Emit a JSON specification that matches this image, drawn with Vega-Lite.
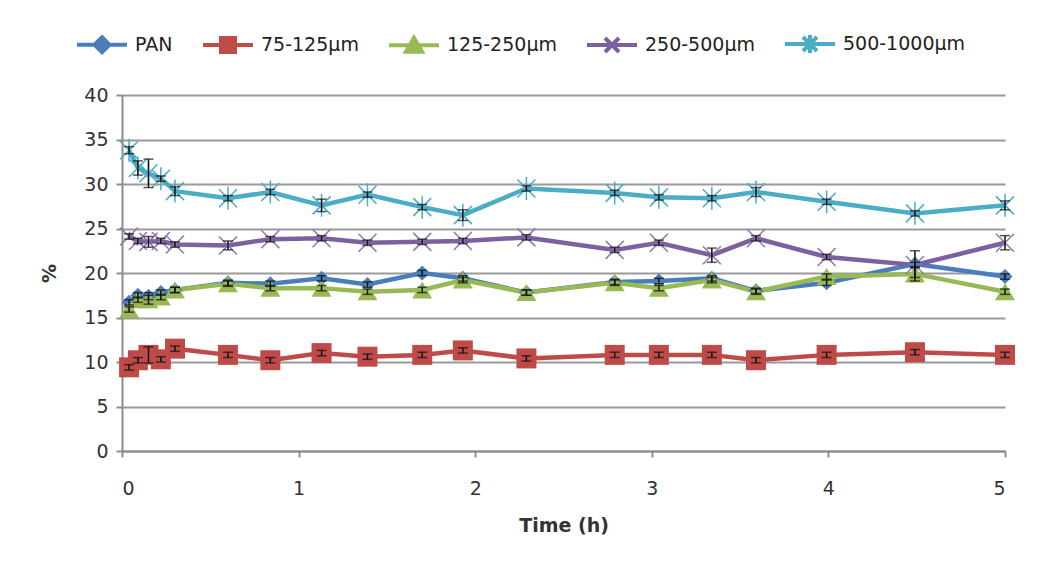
{
  "$schema": "https://vega.github.io/schema/vega-lite/v6.json",
  "width": 883,
  "height": 356,
  "autosize": "none",
  "padding": {"left": 122, "top": 95, "right": 38, "bottom": 125},
  "background": "white",
  "data": {
    "values": [
      {"t": 0.04, "series": "PAN", "v": 16.7, "err": 0.3},
      {"t": 0.09, "series": "PAN", "v": 17.5, "err": 0.3},
      {"t": 0.15, "series": "PAN", "v": 17.4, "err": 0.4},
      {"t": 0.22, "series": "PAN", "v": 17.8, "err": 0.3},
      {"t": 0.3, "series": "PAN", "v": 18.1, "err": 0.3},
      {"t": 0.6, "series": "PAN", "v": 18.9, "err": 0.3},
      {"t": 0.84, "series": "PAN", "v": 18.8, "err": 0.3},
      {"t": 1.13, "series": "PAN", "v": 19.4, "err": 0.3},
      {"t": 1.39, "series": "PAN", "v": 18.7, "err": 0.3},
      {"t": 1.7, "series": "PAN", "v": 20.0, "err": 0.3},
      {"t": 1.93, "series": "PAN", "v": 19.4, "err": 0.3},
      {"t": 2.29, "series": "PAN", "v": 17.8, "err": 0.3},
      {"t": 2.79, "series": "PAN", "v": 19.0, "err": 0.3},
      {"t": 3.04, "series": "PAN", "v": 19.1, "err": 0.3},
      {"t": 3.34, "series": "PAN", "v": 19.4, "err": 0.3},
      {"t": 3.59, "series": "PAN", "v": 18.0, "err": 0.3},
      {"t": 3.99, "series": "PAN", "v": 18.9, "err": 0.3},
      {"t": 4.49, "series": "PAN", "v": 21.0, "err": 1.5},
      {"t": 5.0, "series": "PAN", "v": 19.6, "err": 0.3},
      {"t": 0.04, "series": "75-125µm", "v": 9.4, "err": 0.3},
      {"t": 0.09, "series": "75-125µm", "v": 10.2, "err": 0.3},
      {"t": 0.15, "series": "75-125µm", "v": 10.8, "err": 0.9},
      {"t": 0.22, "series": "75-125µm", "v": 10.3, "err": 0.3},
      {"t": 0.3, "series": "75-125µm", "v": 11.5, "err": 0.3},
      {"t": 0.6, "series": "75-125µm", "v": 10.8, "err": 0.3},
      {"t": 0.84, "series": "75-125µm", "v": 10.2, "err": 0.3},
      {"t": 1.13, "series": "75-125µm", "v": 11.0, "err": 0.3},
      {"t": 1.39, "series": "75-125µm", "v": 10.6, "err": 0.3},
      {"t": 1.7, "series": "75-125µm", "v": 10.8, "err": 0.3},
      {"t": 1.93, "series": "75-125µm", "v": 11.3, "err": 0.3},
      {"t": 2.29, "series": "75-125µm", "v": 10.4, "err": 0.3},
      {"t": 2.79, "series": "75-125µm", "v": 10.8, "err": 0.3},
      {"t": 3.04, "series": "75-125µm", "v": 10.8, "err": 0.3},
      {"t": 3.34, "series": "75-125µm", "v": 10.8, "err": 0.3},
      {"t": 3.59, "series": "75-125µm", "v": 10.2, "err": 0.3},
      {"t": 3.99, "series": "75-125µm", "v": 10.8, "err": 0.3},
      {"t": 4.49, "series": "75-125µm", "v": 11.1, "err": 0.3},
      {"t": 5.0, "series": "75-125µm", "v": 10.8, "err": 0.3},
      {"t": 0.04, "series": "125-250µm", "v": 15.9, "err": 0.3},
      {"t": 0.09, "series": "125-250µm", "v": 17.0, "err": 0.3},
      {"t": 0.15, "series": "125-250µm", "v": 17.0, "err": 0.5},
      {"t": 0.22, "series": "125-250µm", "v": 17.3, "err": 0.3},
      {"t": 0.3, "series": "125-250µm", "v": 18.1, "err": 0.3},
      {"t": 0.6, "series": "125-250µm", "v": 18.8, "err": 0.3},
      {"t": 0.84, "series": "125-250µm", "v": 18.3, "err": 0.3},
      {"t": 1.13, "series": "125-250µm", "v": 18.3, "err": 0.3},
      {"t": 1.39, "series": "125-250µm", "v": 17.9, "err": 0.3},
      {"t": 1.7, "series": "125-250µm", "v": 18.1, "err": 0.3},
      {"t": 1.93, "series": "125-250µm", "v": 19.2, "err": 0.3},
      {"t": 2.29, "series": "125-250µm", "v": 17.8, "err": 0.3},
      {"t": 2.79, "series": "125-250µm", "v": 18.9, "err": 0.3},
      {"t": 3.04, "series": "125-250µm", "v": 18.3, "err": 0.3},
      {"t": 3.34, "series": "125-250µm", "v": 19.2, "err": 0.3},
      {"t": 3.59, "series": "125-250µm", "v": 17.9, "err": 0.3},
      {"t": 3.99, "series": "125-250µm", "v": 19.6, "err": 0.3},
      {"t": 4.49, "series": "125-250µm", "v": 19.9, "err": 0.8},
      {"t": 5.0, "series": "125-250µm", "v": 17.9, "err": 0.3},
      {"t": 0.04, "series": "250-500µm", "v": 24.1, "err": 0.3},
      {"t": 0.09, "series": "250-500µm", "v": 23.6, "err": 0.3},
      {"t": 0.15, "series": "250-500µm", "v": 23.5, "err": 0.6},
      {"t": 0.22, "series": "250-500µm", "v": 23.6, "err": 0.3},
      {"t": 0.3, "series": "250-500µm", "v": 23.2, "err": 0.3},
      {"t": 0.6, "series": "250-500µm", "v": 23.1, "err": 0.5},
      {"t": 0.84, "series": "250-500µm", "v": 23.8, "err": 0.3},
      {"t": 1.13, "series": "250-500µm", "v": 23.9, "err": 0.3},
      {"t": 1.39, "series": "250-500µm", "v": 23.4, "err": 0.3},
      {"t": 1.7, "series": "250-500µm", "v": 23.5, "err": 0.3},
      {"t": 1.93, "series": "250-500µm", "v": 23.6, "err": 0.3},
      {"t": 2.29, "series": "250-500µm", "v": 24.0, "err": 0.3},
      {"t": 2.79, "series": "250-500µm", "v": 22.6, "err": 0.3},
      {"t": 3.04, "series": "250-500µm", "v": 23.4, "err": 0.3},
      {"t": 3.34, "series": "250-500µm", "v": 22.0, "err": 0.8},
      {"t": 3.59, "series": "250-500µm", "v": 23.9, "err": 0.3},
      {"t": 3.99, "series": "250-500µm", "v": 21.8, "err": 0.3},
      {"t": 4.49, "series": "250-500µm", "v": 20.9, "err": 0.3},
      {"t": 5.0, "series": "250-500µm", "v": 23.4, "err": 0.8},
      {"t": 0.04, "series": "500-1000µm", "v": 33.8, "err": 0.4},
      {"t": 0.09, "series": "500-1000µm", "v": 31.8, "err": 0.8},
      {"t": 0.15, "series": "500-1000µm", "v": 31.2, "err": 1.6},
      {"t": 0.22, "series": "500-1000µm", "v": 30.6, "err": 0.3},
      {"t": 0.3, "series": "500-1000µm", "v": 29.2, "err": 0.5},
      {"t": 0.6, "series": "500-1000µm", "v": 28.4, "err": 0.3},
      {"t": 0.84, "series": "500-1000µm", "v": 29.1, "err": 0.3},
      {"t": 1.13, "series": "500-1000µm", "v": 27.6, "err": 0.7},
      {"t": 1.39, "series": "500-1000µm", "v": 28.8, "err": 0.3},
      {"t": 1.7, "series": "500-1000µm", "v": 27.4, "err": 0.3},
      {"t": 1.93, "series": "500-1000µm", "v": 26.5, "err": 0.6},
      {"t": 2.29, "series": "500-1000µm", "v": 29.5, "err": 0.3},
      {"t": 2.79, "series": "500-1000µm", "v": 29.0, "err": 0.3},
      {"t": 3.04, "series": "500-1000µm", "v": 28.5, "err": 0.3},
      {"t": 3.34, "series": "500-1000µm", "v": 28.4, "err": 0.3},
      {"t": 3.59, "series": "500-1000µm", "v": 29.1, "err": 0.5},
      {"t": 3.99, "series": "500-1000µm", "v": 28.0, "err": 0.3},
      {"t": 4.49, "series": "500-1000µm", "v": 26.7, "err": 0.3},
      {"t": 5.0, "series": "500-1000µm", "v": 27.6, "err": 0.5}
    ]
  },
  "encoding": {
    "x": {"field": "t", "type": "quantitative", "title": "Time (h)", "scale": {"domain": [0, 5], "nice": false}, "axis": {"values": [0, 1, 2, 3, 4, 5], "format": "d", "grid": false, "labelPadding": 22, "titlePadding": 18}},
    "y": {"field": "v", "type": "quantitative", "title": "%", "scale": {"domain": [0, 40], "nice": false}, "axis": {"values": [0, 5, 10, 15, 20, 25, 30, 35, 40], "format": "d", "grid": true, "labelPadding": 8, "titlePadding": 24}}
  },
  "layer": [
    {
      "mark": {"type": "line", "strokeWidth": 4.5},
      "encoding": {
        "color": {
          "field": "series", "type": "nominal",
          "scale": {"domain": ["PAN", "75-125µm", "125-250µm", "250-500µm", "500-1000µm"], "range": ["#4a7ebb", "#be4b48", "#98b954", "#7d60a0", "#4bacc6"]},
          "legend": {
            "title": null, "orient": "none", "legendX": -47, "legendY": -78, "direction": "horizontal", "columns": 5,
            "columnPadding": 22, "padding": 0, "labelFont": "DejaVu Sans", "labelFontSize": 19, "labelColor": "#222", "labelOffset": 6,
            "symbolSize": 2500, "symbolStrokeWidth": 4,
            "encode": {
              "symbols": {
                "update": {
                  "shape": {"signal": "datum.value === 'PAN' ? 'M-1,0L1,0M0,-0.3L0.3,0L0,0.3L-0.3,0Z' : datum.value === '75-125µm' ? 'M-1,0L1,0M-0.28,-0.28L0.28,-0.28L0.28,0.28L-0.28,0.28Z' : datum.value === '125-250µm' ? 'M-1,0L1,0M0,-0.3L0.32,0.26L-0.32,0.26Z' : datum.value === '250-500µm' ? 'M-1,0L1,0M-0.28,-0.28L0.28,0.28M-0.28,0.28L0.28,-0.28' : 'M-1,0L1,0M-0.28,-0.28L0.28,0.28M-0.28,0.28L0.28,-0.28M0,-0.36L0,0.36'"},
                  "fill": {"scale": "color", "field": "value"},
                  "stroke": {"scale": "color", "field": "value"},
                  "strokeWidth": {"value": 4},
                  "size": {"value": 2500},
                  "opacity": {"value": 1}
                }
              }
            }
          }
        }
      }
    },
    {
      "transform": [{"filter": {"field": "series", "equal": "PAN"}}],
      "mark": {"type": "point", "filled": true, "size": 400, "strokeWidth": 1.5, "opacity": 1, "shape": "M0,-0.75L0.75,0L0,0.75L-0.75,0Z", "color": "#4a7ebb"},
      "encoding": {}
    },
    {
      "transform": [{"filter": {"field": "series", "equal": "75-125µm"}}],
      "mark": {"type": "point", "filled": true, "size": 400, "strokeWidth": 1.5, "opacity": 1, "shape": "M-1,-1L1,-1L1,1L-1,1Z", "color": "#be4b48"},
      "encoding": {}
    },
    {
      "transform": [{"filter": {"field": "series", "equal": "125-250µm"}}],
      "mark": {"type": "point", "filled": true, "size": 400, "strokeWidth": 1.5, "opacity": 1, "shape": "M0,-0.85L1,0.85L-1,0.85Z", "color": "#98b954"},
      "encoding": {}
    },
    {
      "transform": [{"filter": {"field": "series", "equal": "250-500µm"}}],
      "mark": {"type": "point", "filled": false, "size": 400, "strokeWidth": 1.5, "opacity": 1, "shape": "M-0.9,-0.9L0.9,0.9M-0.9,0.9L0.9,-0.9", "color": "#8f76b0"},
      "encoding": {}
    },
    {
      "transform": [{"filter": {"field": "series", "equal": "500-1000µm"}}],
      "mark": {"type": "point", "filled": false, "size": 400, "strokeWidth": 1.5, "opacity": 1, "shape": "M-0.9,-0.9L0.9,0.9M-0.9,0.9L0.9,-0.9M0,-1.15L0,1.15", "color": "#4bacc6"},
      "encoding": {}
    },
    {
      "mark": {"type": "errorbar", "ticks": {"size": 10, "thickness": 1.5, "color": "#111"}, "rule": {"strokeWidth": 1.5, "color": "#111"}},
      "encoding": {
        "yError": {"field": "err"}
      }
    }
  ],
  "config": {
    "view": {"stroke": null},
    "font": "DejaVu Sans",
    "axis": {
      "labelFont": "DejaVu Sans", "labelFontSize": 19, "labelColor": "#333",
      "titleFont": "DejaVu Sans", "titleFontSize": 19, "titleFontWeight": "bold", "titleColor": "#333",
      "domainColor": "#8c8c8c", "domainWidth": 2, "tickColor": "#8c8c8c", "tickWidth": 2, "tickSize": 6,
      "gridColor": "#9a9a9a", "gridWidth": 2
    }
  }
}
